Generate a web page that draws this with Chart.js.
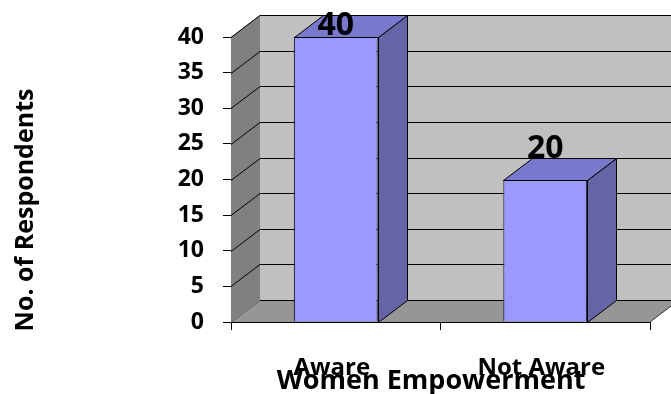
<!DOCTYPE html>
<html>
<head>
<meta charset="utf-8">
<script src="https://cdn.jsdelivr.net/npm/chart.js@4/dist/chart.umd.min.js"></script>
<style>
  html, body { margin: 0; padding: 0; background: #ffffff; }
  #wrap { width: 671px; height: 394px; }
</style>
</head>
<body>
<div id="wrap"><canvas id="c" width="671" height="394"></canvas></div>
<script>
// Survey counts
const categories = ['Aware', 'Not Aware'];
const respondents = [40, 20];
const yTickValues = [0, 5, 10, 15, 20, 25, 30, 35, 40];
const xAxisTitle = 'Women Empowerment';
const yAxisTitle = 'No. of Respondents';

const FONT = '"Open Sans", "DejaVu Sans", sans-serif';
const DEPTH_X = 29, DEPTH_Y = -22;   // oblique depth of the 3D box

function fillPoly(ctx, pts, fill, stroke) {
  ctx.beginPath();
  ctx.moveTo(pts[0][0], pts[0][1]);
  for (let i = 1; i < pts.length; i++) ctx.lineTo(pts[i][0], pts[i][1]);
  ctx.closePath();
  if (fill) { ctx.fillStyle = fill; ctx.fill(); }
  if (stroke) { ctx.strokeStyle = stroke; ctx.stroke(); }
}
function seg(ctx, x1, y1, x2, y2) {
  ctx.beginPath(); ctx.moveTo(x1, y1); ctx.lineTo(x2, y2); ctx.stroke();
}

// walls, floor and gridlines behind the columns
const boxPlugin = {
  id: 'box3d',
  beforeDatasetsDraw(chart) {
    const { ctx, chartArea: a, scales: { y } } = chart;
    const yMin = y.getPixelForValue(y.min), yMax = y.getPixelForValue(y.max);
    const L = a.left, R = a.right;
    ctx.save();
    ctx.lineWidth = 1;
    fillPoly(ctx, [[L + DEPTH_X, yMax + DEPTH_Y], [R + DEPTH_X, yMax + DEPTH_Y], [R + DEPTH_X, yMin + DEPTH_Y], [L + DEPTH_X, yMin + DEPTH_Y]], '#c0c0c0');
    fillPoly(ctx, [[L, yMax], [L + DEPTH_X, yMax + DEPTH_Y], [L + DEPTH_X, yMin + DEPTH_Y], [L, yMin]], '#808080');
    fillPoly(ctx, [[L, yMin], [L + DEPTH_X, yMin + DEPTH_Y], [R + DEPTH_X, yMin + DEPTH_Y], [R, yMin]], '#969696');
    ctx.strokeStyle = '#000000';
    yTickValues.forEach(v => {
      const py = Math.round(y.getPixelForValue(v)) + 0.5;
      if (v === y.min) {
        ctx.strokeStyle = '#5a5a5a';
        seg(ctx, L, py, L + DEPTH_X, py + DEPTH_Y);
        ctx.strokeStyle = '#000000';
      } else {
        seg(ctx, L, py, L + DEPTH_X, py + DEPTH_Y);
      }
      seg(ctx, L + DEPTH_X, py + DEPTH_Y, R + DEPTH_X, py + DEPTH_Y);
    });
    ctx.strokeStyle = '#333333';
    seg(ctx, R, yMin, R + DEPTH_X, yMin + DEPTH_Y);
    ctx.restore();
  },
  afterDatasetsDraw(chart) {
    const { ctx } = chart;
    const meta = chart.getDatasetMeta(0);
    ctx.save();
    ctx.lineWidth = 1;
    meta.data.forEach((bar, i) => {
      const { x, y, base, width } = bar.getProps(['x', 'y', 'base', 'width'], true);
      const l = Math.round(x - width / 2) + 0.5, r = Math.round(x + width / 2) + 0.5;
      const t = Math.round(y) + 0.5, b = Math.round(base) + 0.5;
      // right side face
      fillPoly(ctx, [[r, t], [r + DEPTH_X, t + DEPTH_Y], [r + DEPTH_X, b + DEPTH_Y], [r, b]], '#6464a6', '#000000');
      // top face
      fillPoly(ctx, [[l, t], [r, t], [r + DEPTH_X, t + DEPTH_Y], [l + DEPTH_X, t + DEPTH_Y]], '#7878cc', '#000000');
      // value label above the column
      ctx.font = 'bold 32px ' + FONT;
      ctx.fillStyle = '#000000';
      ctx.textAlign = 'center';
      ctx.textBaseline = 'alphabetic';
      const baseline = Math.max(t + DEPTH_Y - 1, 35);
      ctx.fillText(String(respondents[i]), x, baseline);
    });
    ctx.restore();
  },
  afterDraw(chart) {
    const { ctx } = chart;
    ctx.save();
    ctx.fillStyle = '#000000';
    ctx.font = 'bold 27px ' + FONT;
    ctx.textAlign = 'center';
    ctx.textBaseline = 'alphabetic';
    ctx.fillText(xAxisTitle, 431, 389);
    ctx.translate(26, 210);
    ctx.rotate(-Math.PI / 2);
    ctx.font = 'bold 25px ' + FONT;
    ctx.textBaseline = 'middle';
    ctx.fillText(yAxisTitle, 0, 0);
    ctx.restore();
  }
};

new Chart(document.getElementById('c'), {
  type: 'bar',
  data: {
    labels: categories,
    datasets: [{
      data: respondents,
      backgroundColor: '#9999ff',
      borderColor: '#000000',
      borderWidth: 1,
      categoryPercentage: 1,
      barPercentage: 0.4
    }]
  },
  options: {
    responsive: false,
    animation: false,
    devicePixelRatio: 1,
    layout: { padding: { top: 37, right: 21, bottom: 0, left: 0 } },
    plugins: { legend: { display: false }, tooltip: { enabled: false } },
    scales: {
      x: {
        z: 1,
        afterFit(s) { s.height = 72; },
        grid: { offset: true, drawOnChartArea: false, drawTicks: true, tickLength: 8, color: '#000000' },
        border: { display: true, color: '#000000', width: 1 },
        ticks: { color: '#000000', padding: 24, labelOffset: -4, maxRotation: 0, font: { family: FONT, size: 24, weight: 'bold' } }
      },
      y: {
        z: 1,
        min: 0, max: 40,
        afterFit(s) { s.width = 231; },
        afterBuildTicks(s) { s.ticks = yTickValues.map(v => ({ value: v })); },
        grid: { drawOnChartArea: false, drawTicks: true, tickLength: 8, color: '#000000' },
        border: { display: true, color: '#000000', width: 1 },
        ticks: { color: '#000000', padding: 19, font: { family: FONT, size: 23, weight: 'bold' } }
      }
    }
  },
  plugins: [boxPlugin]
});
</script>
</body>
</html>
